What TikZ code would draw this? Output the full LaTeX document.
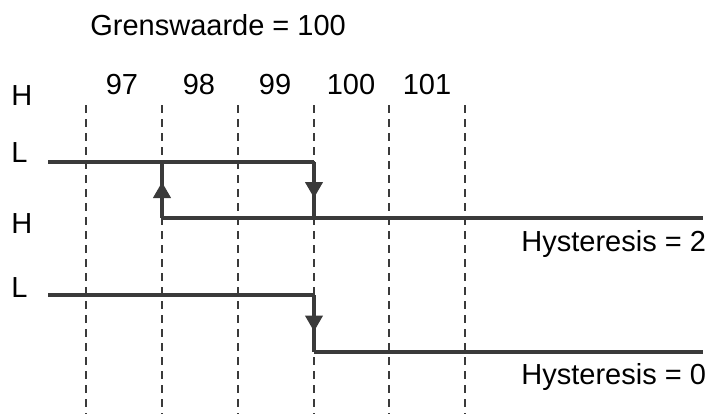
\documentclass[tikz,border=0pt]{standalone}
\usepackage{fontspec}
\setmainfont{Liberation Sans}
\usetikzlibrary{arrows.meta,decorations.markings}

\definecolor{sig}{HTML}{3A3A3A}

\tikzset{
  lbl/.style={inner sep=0pt, font=\fontsize{14.5}{17}\selectfont},
  grid/.style={line width=1pt, color=sig, dash pattern=on 4pt off 3pt},
  signal/.style={line width=2.2pt, color=sig},
  midarrow/.style={signal, postaction={decorate}, decoration={markings,
    mark=at position 0.5 with {\pgftransformxshift{4pt}\arrow[sig]{Triangle[length=8pt,width=8.5pt]}}}}
}

\begin{document}
\begin{tikzpicture}[x=0.5pt, y=-0.5pt]

\useasboundingbox (0,0) rectangle (711,414);

\node [lbl, anchor=west] (gw) at (90,25) {Grenswaarde = 100};

\node [lbl, anchor=west] (h1) at (11,96) {H};
\node [lbl, anchor=west] (l1) at (11,153) {L};
\node [lbl, anchor=west] (h2) at (11,224) {H};
\node [lbl, anchor=west] (l2) at (11,288) {L};

\node [lbl] (n97) at (122,85) {97};
\node [lbl] (n98) at (199,85) {98};
\node [lbl] (n99) at (275,85) {99};
\node [lbl] (n100) at (351,85) {100};
\node [lbl] (n101) at (427,85) {101};

\node [lbl, anchor=west] (hy2) at (521,244) {Hysteresis = 2};
\node [lbl, anchor=west] (hy0) at (521,377) {Hysteresis = 0};

% dashed grid
\coordinate (d1t) at (86,105);  \coordinate (d1b) at (86,414);
\coordinate (d2t) at (162,105); \coordinate (d2b) at (162,414);
\coordinate (d3t) at (238,105); \coordinate (d3b) at (238,414);
\coordinate (d4t) at (314,105); \coordinate (d4b) at (314,414);
\coordinate (d5t) at (389,105); \coordinate (d5b) at (389,414);
\coordinate (d6t) at (465,105); \coordinate (d6b) at (465,414);

\draw [grid] (d1t) -- (d1b);
\draw [grid] (d2t) -- (d2b);
\draw [grid] (d3t) -- (d3b);
\draw [grid] (d4t) -- (d4b);
\draw [grid] (d5t) -- (d5b);
\draw [grid] (d6t) -- (d6b);

% hysteresis = 2
\coordinate (a1) at (48,162);
\coordinate (a2) at (314,162);
\coordinate (a3) at (314,218);
\coordinate (a4) at (703,218);
\coordinate (a5) at (162,218);
\coordinate (a6) at (162,162);

\draw [signal] (a1) -- (a2);
\draw [midarrow] (a2) -- (a3);
\draw [signal] (a5) -- (a4);
\draw [midarrow] (a5) -- (a6);

% hysteresis = 0
\coordinate (b1) at (48,295);
\coordinate (b2) at (314,295);
\coordinate (b3) at (314,352);
\coordinate (b4) at (703,352);

\draw [signal] (b1) -- (b2);
\draw [midarrow] (b2) -- (b3);
\draw [signal] (b3) -- (b4);

\end{tikzpicture}
\end{document}
